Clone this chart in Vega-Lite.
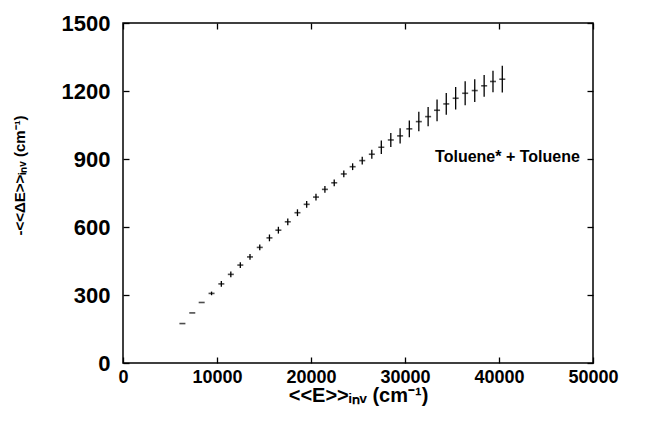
{
  "$schema": "https://vega.github.io/schema/vega-lite/v6.json",
  "autosize": {"type": "none"},
  "width": 470,
  "height": 340,
  "padding": {"left": 123, "top": 23, "right": 53, "bottom": 64},
  "background": "white",
  "config": {
    "view": {"stroke": "black", "strokeWidth": 1.5},
    "font": "Liberation Sans",
    "axis": {
      "domain": false,
      "tickColor": "black",
      "tickWidth": 1.3,
      "grid": false,
      "labelColor": "black",
      "labelFontWeight": "bold",
      "titleColor": "black",
      "titleFontWeight": "bold",
      "format": "d"
    }
  },
  "datasets": {
    "pts": [
      {"E": 6320, "dE": 174, "lo": 174, "hi": 174},
      {"E": 7370, "dE": 221, "lo": 221, "hi": 221},
      {"E": 8370, "dE": 267, "lo": 267, "hi": 267},
      {"E": 9420, "dE": 307, "lo": 299, "hi": 315},
      {"E": 10460, "dE": 349, "lo": 336, "hi": 362},
      {"E": 11470, "dE": 391, "lo": 378, "hi": 404},
      {"E": 12480, "dE": 432, "lo": 419, "hi": 445},
      {"E": 13510, "dE": 468, "lo": 455, "hi": 481},
      {"E": 14550, "dE": 510, "lo": 497, "hi": 523},
      {"E": 15580, "dE": 552, "lo": 537, "hi": 567},
      {"E": 16530, "dE": 586, "lo": 571, "hi": 601},
      {"E": 17530, "dE": 623, "lo": 608, "hi": 638},
      {"E": 18560, "dE": 663, "lo": 648, "hi": 678},
      {"E": 19540, "dE": 700, "lo": 685, "hi": 715},
      {"E": 20530, "dE": 732, "lo": 717, "hi": 747},
      {"E": 21480, "dE": 766, "lo": 751, "hi": 781},
      {"E": 22470, "dE": 795, "lo": 780, "hi": 810},
      {"E": 23490, "dE": 834, "lo": 819, "hi": 849},
      {"E": 24430, "dE": 866, "lo": 851, "hi": 881},
      {"E": 25450, "dE": 893, "lo": 876, "hi": 910},
      {"E": 26470, "dE": 921, "lo": 901, "hi": 941},
      {"E": 27480, "dE": 952, "lo": 922, "hi": 982},
      {"E": 28490, "dE": 984, "lo": 953, "hi": 1015},
      {"E": 29480, "dE": 1002, "lo": 968, "hi": 1036},
      {"E": 30460, "dE": 1033, "lo": 996, "hi": 1070},
      {"E": 31470, "dE": 1065, "lo": 1022, "hi": 1108},
      {"E": 32460, "dE": 1087, "lo": 1045, "hi": 1129},
      {"E": 33410, "dE": 1115, "lo": 1067, "hi": 1163},
      {"E": 34390, "dE": 1143, "lo": 1095, "hi": 1191},
      {"E": 35390, "dE": 1168, "lo": 1118, "hi": 1218},
      {"E": 36400, "dE": 1190, "lo": 1137, "hi": 1243},
      {"E": 37420, "dE": 1202, "lo": 1152, "hi": 1252},
      {"E": 38420, "dE": 1223, "lo": 1175, "hi": 1271},
      {"E": 39360, "dE": 1242, "lo": 1195, "hi": 1289},
      {"E": 40350, "dE": 1252, "lo": 1193, "hi": 1311}
    ],
    "note": [
      {"E": 33200, "dE": 907, "label": "Toluene* + Toluene"}
    ]
  },
  "resolve": {"axis": {"x": "independent", "y": "independent"}},
  "layer": [
    {
      "data": {"name": "pts"},
      "mark": {"type": "rule", "color": "black", "strokeWidth": 1.3},
      "encoding": {
        "x": {
          "field": "E", "type": "quantitative",
          "scale": {"domain": [0, 50000], "nice": false, "zero": false},
          "axis": {
            "orient": "bottom",
            "values": [0, 10000, 20000, 30000, 40000, 50000],
            "offset": -6,
            "tickSize": 6,
            "labelPadding": 5,
            "labelAlign": "center",
            "labelFontSize": 18,
            "title": "<<E>>ᵢₙᵥ  (cm⁻¹)",
            "titleFontSize": 20,
            "titleY": 44,
            "titleBaseline": "alphabetic"
          }
        },
        "y": {
          "field": "lo", "type": "quantitative",
          "scale": {"domain": [0, 1500], "nice": false, "zero": false},
          "axis": {
            "orient": "left",
            "values": [0, 300, 600, 900, 1200, 1500],
            "offset": -6,
            "tickSize": 6,
            "labelPadding": 13,
            "labelFontSize": 22,
            "labelBaseline": "middle",
            "title": "-<<ΔE>>ᵢₙᵥ  (cm⁻¹)",
            "titleFontSize": 15,
            "titleX": -105,
            "titleY": 152,
            "titleAngle": -90,
            "titleAlign": "center",
            "titleBaseline": "alphabetic"
          }
        },
        "y2": {"field": "hi"}
      }
    },
    {
      "data": {"name": "pts"},
      "mark": {"type": "tick", "orient": "horizontal", "color": "black", "size": 6, "thickness": 1.6},
      "encoding": {
        "x": {
          "field": "E", "type": "quantitative",
          "axis": {
            "orient": "top",
            "values": [0, 10000, 20000, 30000, 40000, 50000],
            "offset": -6,
            "tickSize": 6,
            "labelFontSize": 8,
            "labelPadding": 60
          }
        },
        "y": {
          "field": "dE", "type": "quantitative",
          "axis": {
            "orient": "right",
            "values": [0, 300, 600, 900, 1200, 1500],
            "offset": -6,
            "tickSize": 6,
            "labelFontSize": 8,
            "labelPadding": 90
          }
        }
      }
    },
    {
      "data": {"name": "note"},
      "mark": {"type": "text", "align": "left", "baseline": "middle", "fontSize": 16, "fontWeight": "bold", "color": "black"},
      "encoding": {
        "x": {"field": "E", "type": "quantitative", "axis": null},
        "y": {"field": "dE", "type": "quantitative", "axis": null},
        "text": {"field": "label"}
      }
    }
  ]
}
